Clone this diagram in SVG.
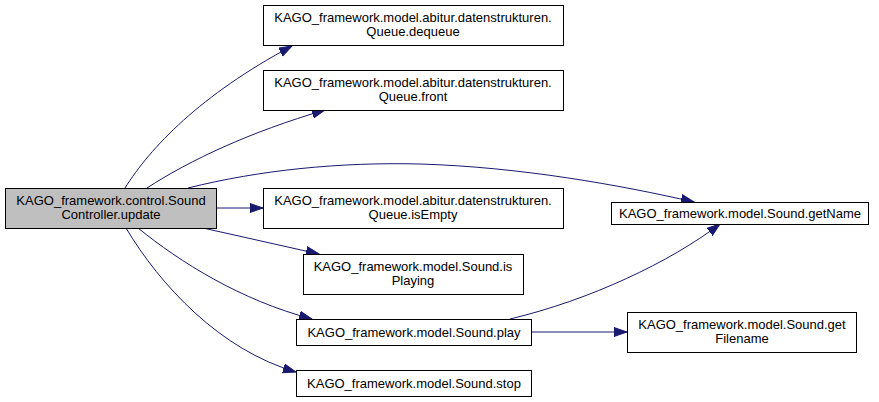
<svg xmlns="http://www.w3.org/2000/svg" width="879" height="402" viewBox="0 0 879 402">
<defs>
<marker id="arr" markerUnits="userSpaceOnUse" markerWidth="15" markerHeight="11" refX="13" refY="5" orient="auto">
<path d="M0,0.5 L13,5 L0,9.5 Z" fill="#191970" stroke="#191970" stroke-width="1"/>
</marker>
<style>
.n rect{fill:#fff;stroke:#000;stroke-width:1}
.n.main rect{fill:#bfbfbf}
.n text{font-family:"Liberation Sans",Arial,sans-serif;font-size:13px;fill:#000;text-anchor:middle}
.e path{fill:none;stroke:#191970;stroke-width:1;marker-end:url(#arr)}
</style>
</defs>
<rect width="879" height="402" fill="#fff"/>
<g id="edges" class="e">
<path d="M125,188 C150,148 200,95 292,46"/>
<path d="M147,188 C190,160 250,132 325,110"/>
<path d="M188,188 C260,170 340,162 420,164 C520,167 620,185 694,202"/>
<path d="M216,208 L263,208"/>
<path d="M203,228 L319,254"/>
<path d="M138,228 C180,262 240,300 312,319"/>
<path d="M126,228 C160,285 220,350 296,372"/>
<path d="M510,319 C590,300 670,262 720,224"/>
<path d="M531,332 L627,332"/>
</g>
<g id="update" class="n main"><rect x="5.5" y="188.5" width="211" height="40"/><text x="111" y="205">KAGO_framework.control.Sound</text><text x="111" y="219">Controller.update</text></g>
<g id="dequeue" class="n"><rect x="263.5" y="5.5" width="300" height="40"/><text x="413" y="22">KAGO_framework.model.abitur.datenstrukturen.</text><text x="413" y="36">Queue.dequeue</text></g>
<g id="front" class="n"><rect x="263.5" y="70.5" width="300" height="40"/><text x="413" y="87">KAGO_framework.model.abitur.datenstrukturen.</text><text x="413" y="101">Queue.front</text></g>
<g id="isEmpty" class="n"><rect x="263.5" y="188.5" width="300" height="40"/><text x="413" y="205">KAGO_framework.model.abitur.datenstrukturen.</text><text x="413" y="219">Queue.isEmpty</text></g>
<g id="isPlaying" class="n"><rect x="303.5" y="254.5" width="220" height="40"/><text x="413" y="271">KAGO_framework.model.Sound.is</text><text x="413" y="285">Playing</text></g>
<g id="play" class="n"><rect x="296.5" y="319.5" width="235" height="26"/><text x="414" y="337">KAGO_framework.model.Sound.play</text></g>
<g id="stop" class="n"><rect x="296.5" y="370.5" width="235" height="26"/><text x="414" y="388">KAGO_framework.model.Sound.stop</text></g>
<g id="getName" class="n"><rect x="611.5" y="202.5" width="257" height="22"/><text x="740" y="218">KAGO_framework.model.Sound.getName</text></g>
<g id="getFilename" class="n"><rect x="627.5" y="312.5" width="229" height="40"/><text x="742" y="329">KAGO_framework.model.Sound.get</text><text x="742" y="343">Filename</text></g>
</svg>
